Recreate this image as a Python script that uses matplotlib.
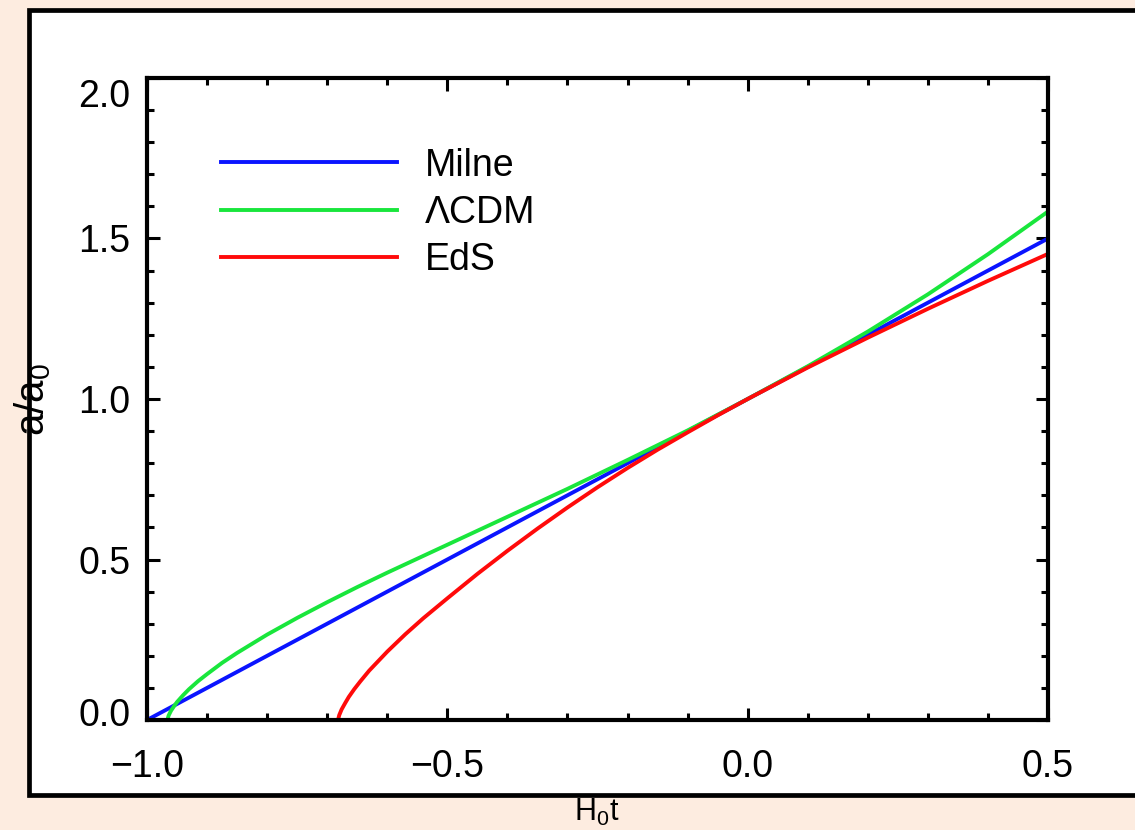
import matplotlib
matplotlib.use('Agg')
import matplotlib.pyplot as plt
import matplotlib.patches as mpatches
from matplotlib.ticker import MultipleLocator
from matplotlib.transforms import ScaledTranslation

# ── data ──
milne_t = [-1.0, 0.5]
milne_a = [0.0, 1.5]

lcdm_t = [-0.966, -0.964, -0.96, -0.955, -0.95, -0.94, -0.93, -0.915, -0.9,
          -0.875, -0.85, -0.8, -0.75, -0.7, -0.65, -0.6, -0.5, -0.4, -0.3,
          -0.2, -0.1, 0.0, 0.1, 0.2, 0.3, 0.4, 0.5]
lcdm_a = [0.0, 0.014, 0.029, 0.043, 0.056, 0.077, 0.096, 0.121, 0.143,
          0.178, 0.209, 0.266, 0.318, 0.367, 0.414, 0.459, 0.546, 0.633, 0.720,
          0.810, 0.902, 1.0, 1.102, 1.210, 1.326, 1.451, 1.584]

eds_t = [-0.682, -0.68, -0.678, -0.676, -0.67, -0.664, -0.655, -0.645, -0.63,
         -0.6, -0.57, -0.54, -0.5, -0.45, -0.4, -0.35, -0.3, -0.25, -0.2,
         -0.15, -0.1, -0.05, 0.0, 0.1, 0.2, 0.3, 0.4, 0.5]
eds_a = [0.0, 0.015, 0.024, 0.033, 0.053, 0.072, 0.096, 0.120, 0.154,
         0.213, 0.267, 0.317, 0.379, 0.455, 0.527, 0.596, 0.662, 0.725, 0.785,
         0.842, 0.896, 0.949, 1.0, 1.098, 1.191, 1.281, 1.368, 1.452]

x_ticks = [-1.0, -0.5, 0.0, 0.5]
x_ticklabels = ['−1.0', '−0.5', '0.0', '0.5']
y_ticks = [0.0, 0.5, 1.0, 1.5, 2.0]
y_ticklabels = ['0.0', '0.5', '1.0', '1.5', '2.0']

# ── style ──
plt.rcParams['font.family'] = ['Liberation Sans', 'DejaVu Sans']
plt.rcParams['mathtext.fontset'] = 'custom'
plt.rcParams['mathtext.rm'] = 'Liberation Sans'
plt.rcParams['mathtext.it'] = 'Liberation Sans'

fig = plt.figure(figsize=(11.35, 8.30), dpi=100)
fig.patch.set_facecolor('#fdece0')

# white panel with black frame (runs off the right edge)
W, H = 1135, 830
fig.patches.append(mpatches.Rectangle((29 / W, 1 - 795 / H), 1.2, (795 - 10) / H,
                                      transform=fig.transFigure, facecolor='white',
                                      edgecolor='black', linewidth=3.4, zorder=-5))

ax = fig.add_axes([147 / W, 1 - 720 / H, (1048 - 147) / W, (720 - 78) / H])
ax.set_zorder(2)
ax.set_facecolor('white')

lw = 2.8
ax.plot(milne_t, milne_a, color='#0a14ff', lw=lw, label='Milne')
ax.plot(lcdm_t, lcdm_a, color='#19e63c', lw=lw, label='ΛCDM')
ax.plot(eds_t, eds_a, color='#ff0a0a', lw=lw, label='EdS')

ax.set_xlim(-1.0, 0.5)
ax.set_ylim(0.0, 2.0)
ax.xaxis.set_minor_locator(MultipleLocator(0.1))
ax.yaxis.set_minor_locator(MultipleLocator(0.1))

for s in ax.spines.values():
    s.set_linewidth(3.0)
ax.tick_params(which='both', direction='in', top=True, right=True, width=2.2,
               labelsize=27, colors='black')
ax.tick_params(which='major', length=9)
ax.tick_params(which='minor', length=5)
ax.tick_params(axis='x', which='major', pad=21)
ax.tick_params(axis='y', which='major', pad=12)

ax.set_xticks(x_ticks)
ax.set_xticklabels(x_ticklabels)
ax.set_yticks(y_ticks)
ax.set_yticklabels(y_ticklabels)

# end labels sit a little inside the axis range, as in the original
yt = ax.yaxis.get_major_ticks()
yt[0].label1.set_transform(yt[0].label1.get_transform() +
                           ScaledTranslation(0, 0.08, fig.dpi_scale_trans))
yt[-1].label1.set_transform(yt[-1].label1.get_transform() +
                            ScaledTranslation(0, -0.15, fig.dpi_scale_trans))

leg = ax.legend(loc='upper left', bbox_to_anchor=(0.065, 0.915), frameon=False,
                fontsize=27, handlelength=4.7, handletextpad=0.75,
                labelspacing=0.3, borderaxespad=0)
for h in leg.get_lines():
    h.set_linewidth(2.8)

fig.text(33 / W, 1 - 400 / H, r'a/a$_\mathrm{0}$', rotation=90, fontsize=29,
         ha='center', va='center', zorder=3)
fig.text(597 / W, 1 - 812 / H, r'H$_\mathrm{0}$t', fontsize=22,
         ha='center', va='center')

fig.savefig('out.png', dpi=100, facecolor=fig.get_facecolor())
